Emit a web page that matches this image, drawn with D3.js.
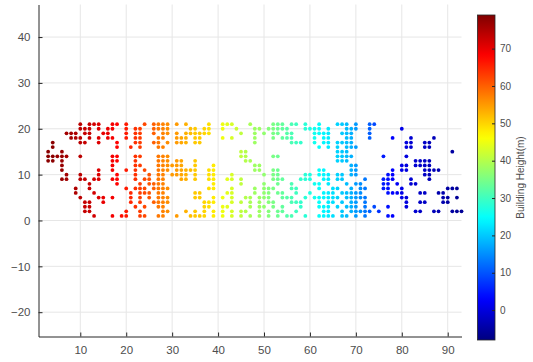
<!DOCTYPE html>
<html>
<head>
<meta charset="utf-8">
<script src="https://cdn.jsdelivr.net/npm/d3@7"></script>
<style>
  body { margin: 0; background: #fff; }
  svg { font-family: "Liberation Sans", Arial, sans-serif; }
</style>
</head>
<body>
<svg id="chart" width="533" height="362"></svg>
<script>
// grid rows of building points (y value, then the x values found in that row)
const rowY = [21, 20, 19, 18, 17, 16, 15, 14, 13, 12, 11, 10, 9, 8, 7, 6, 5, 4, 3, 2, 1];
const rowX = [
  [10,12,13,14,17,18,20,24,26,27,28,29,31,33,38,41,42,43,47,52,53,54,56,57,59,62,66,67,68,70,73,74],
  [10,11,12,14,16,17,20,22,23,26,27,28,29,34,35,37,38,41,44,48,49,51,52,53,54,55,59,60,61,62,64,68,69,70,73,80],
  [7,8,9,11,12,15,16,20,22,23,26,28,29,31,33,34,35,36,37,38,45,48,50,52,53,55,56,61,62,63,64,67,68,69,73],
  [8,9,10,12,14,16,17,20,22,23,27,28,31,32,33,35,36,41,43,48,52,54,55,56,61,63,64,68,69,73,78,82,87],
  [4,10,11,14,18,22,23,26,27,29,31,32,33,35,36,48,56,57,58,61,63,64,66,67,68,69,81,82,85,86],
  [4,18,21,23,27,28,62,64,66,68,69,70,81,82,85,86],
  [3,6,45,46,66,67,68,91],
  [3,4,5,6,7,10,17,18,22,23,27,28,29,45,46,52,53,66,67,68,69,76,81],
  [3,4,6,17,18,22,27,28,29,31,32,35,46,47,66,67,68,83,84,85,86],
  [6,17,22,23,27,28,29,30,31,32,35,39,48,49,69,70,80,81,83,84,85,86],
  [6,14,17,20,22,24,27,28,29,31,32,33,34,35,38,39,48,49,52,53,62,63,69,70,78,80,81,85,86,87,88],
  [7,10,14,18,22,25,27,28,30,31,32,33,35,38,39,43,50,52,53,59,60,62,63,64,66,67,69,70,77,78,85,86],
  [6,7,10,11,13,14,17,18,22,24,25,27,28,32,33,35,38,39,42,43,45,52,53,54,58,59,60,63,64,66,67,72,76,77,78,82,86],
  [12,18,23,25,26,27,28,39,45,50,53,56,61,62,64,68,70,71,76,77,79,82,83],
  [9,12,20,22,23,24,26,27,28,29,38,39,43,48,50,51,52,56,57,62,65,66,69,71,72,76,77,80,90,91,92],
  [9,13,21,23,24,25,27,28,35,36,42,43,48,50,51,53,54,57,60,63,64,65,67,68,69,70,71,77,78,79,80,84,85,88,89],
  [10,14,15,17,21,23,25,27,28,29,35,36,39,41,43,46,47,49,50,51,54,55,56,59,61,62,63,64,65,66,68,69,70,71,72,80,81,89,90,92],
  [11,12,15,21,23,26,27,28,29,37,38,39,43,45,47,49,51,52,56,57,58,62,64,65,67,69,70,72,81,84,85,89,90],
  [11,12,22,24,27,28,37,38,41,42,47,49,50,52,54,58,62,63,64,66,68,69,70,72,74,77,81],
  [11,12,20,23,28,29,33,35,37,39,41,43,45,46,49,51,53,54,57,63,64,67,69,70,71,72,73,75,83,84,87,88,91,92,93],
  [13,17,19,20,23,24,27,28,31,34,35,36,37,39,41,43,45,47,49,51,53,55,56,59,62,63,64,65,67,68,70,72,77,78]
];

const colX = [3,4,5,6,7,8,9,10,11,12,13,14,15,16,17,18,19,20,21,22,23,24,25,26,27,28,29,30,31,32,33,34,35,36,37,38,39,40,41,42,43,44,45,46,47,48,49,50,51,52,53,54,55,56,57,58,59,60,61,62,63,64,65,66,67,68,69,70,71,72,73,74,75,76,77,78,79,80,81,82,83,84,85,86,87,88,89,90,91,92,93];
const colHeight = [78,78,77,77,76,76,75,74,73,73,72,71,70,70,69,68,67,66,65,64,63,62,61,60,58,57,56,55,55,54,53,52,51,51,50,49,48,47,45,44,43,42,41,40,39,38,38,37,36,35,34,33,32,31,30,29,28,27,26,25,24,23,22,21,20,19,18,16,15,13,11,9,7,5,4,3,2,1,0,-1,-1,-2,-2,-3,-3,-4,-4,-5,-5,-6,-6];

const xTicks = [10, 20, 30, 40, 50, 60, 70, 80, 90];
const yTicks = [-20, -10, 0, 10, 20, 30, 40];
const cbTicks = [0, 10, 20, 30, 40, 50, 60, 70];
const cbLabel = "Building Height(m)";

// MATLAB style jet colormap
function jet(t) {
  const c = v => Math.max(0, Math.min(1, v));
  const r = c(1.5 - Math.abs(4 * t - 3));
  const g = c(1.5 - Math.abs(4 * t - 2));
  const b = c(1.5 - Math.abs(4 * t - 1));
  return d3.rgb(r * 255, g * 255, b * 255).toString();
}

const svg = d3.select("#chart");
const plotL = 38.5, plotR = 461.5, plotT = 4.5, plotB = 336.5;

const x = d3.scaleLinear().domain([0.9, 93]).range([plotL, plotR]);
const y = d3.scaleLinear().domain([-25.3, 47.1]).range([plotB, plotT]);
const cmin = -8, cmax = 79;
const cnorm = d3.scaleLinear().domain([cmin, cmax]).range([0, 1]).clamp(true);

// grid
svg.append("g").selectAll("line").data(xTicks).enter().append("line")
  .attr("x1", d => x(d)).attr("x2", d => x(d))
  .attr("y1", plotT).attr("y2", plotB)
  .attr("stroke", "#e6e6e6");
svg.append("g").selectAll("line").data(yTicks).enter().append("line")
  .attr("x1", plotL).attr("x2", plotR)
  .attr("y1", d => y(d)).attr("y2", d => y(d))
  .attr("stroke", "#e6e6e6");

// points
const heightOf = new Map(colX.map((c, i) => [c, colHeight[i]]));
const points = [];
rowY.forEach((yy, i) => rowX[i].forEach(xx => points.push({x: xx, y: yy, h: heightOf.get(xx)})));

svg.append("g").selectAll("circle").data(points).enter().append("circle")
  .attr("cx", d => x(d.x))
  .attr("cy", d => y(d.y))
  .attr("r", 1.9)
  .attr("fill", d => jet(cnorm(d.h)));

// axes
const xAxis = svg.append("g").attr("transform", "translate(0," + plotB + ")")
  .call(d3.axisBottom(x).tickValues(xTicks).tickSizeInner(-4).tickSizeOuter(0).tickPadding(9));
const yAxis = svg.append("g").attr("transform", "translate(" + plotL + ",0)")
  .call(d3.axisLeft(y).tickValues(yTicks).tickSizeInner(-4).tickSizeOuter(0).tickPadding(8));
[xAxis, yAxis].forEach(a => {
  a.select(".domain").attr("stroke", "#262626");
  a.selectAll(".tick line").attr("stroke", "#262626");
  a.selectAll("text").attr("fill", "#4d4d4d").style("font-size", "11.5px");
});

// colour bar
const cbX = 477.5, cbW = 17.5, cbTop = 15, cbBottom = 340;
const grad = svg.append("defs").append("linearGradient")
  .attr("id", "jetgrad").attr("x1", 0).attr("y1", 1).attr("x2", 0).attr("y2", 0);
d3.range(0, 1.0001, 0.02).forEach(t => {
  grad.append("stop").attr("offset", t).attr("stop-color", jet(t));
});
svg.append("rect")
  .attr("x", cbX).attr("y", cbTop).attr("width", cbW).attr("height", cbBottom - cbTop)
  .attr("fill", "url(#jetgrad)").attr("stroke", "#262626").attr("stroke-width", 0.8);

const cy = d3.scaleLinear().domain([cmin, cmax]).range([cbBottom, cbTop]);
const cbAxis = svg.append("g").attr("transform", "translate(" + (cbX + cbW) + ",0)")
  .call(d3.axisRight(cy).tickValues(cbTicks).tickSizeInner(-3).tickSizeOuter(0).tickPadding(5));
cbAxis.select(".domain").remove();
cbAxis.selectAll(".tick line").attr("stroke", "#262626");
cbAxis.selectAll("text").attr("fill", "#4d4d4d").style("font-size", "10px");

svg.append("text")
  .attr("transform", "translate(524," + ((cbTop + cbBottom) / 2) + ") rotate(-90)")
  .attr("text-anchor", "middle")
  .attr("fill", "#4d4d4d")
  .style("font-size", "10px")
  .text(cbLabel);
</script>
</body>
</html>
